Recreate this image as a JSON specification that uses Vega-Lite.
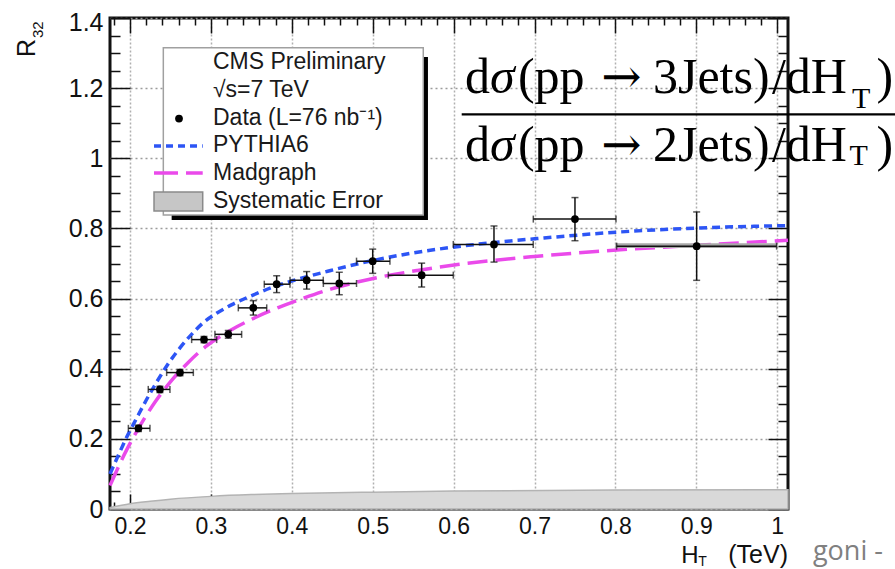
{
  "$schema": "https://vega.github.io/schema/vega-lite/v6.json",
  "width": 678,
  "height": 491,
  "autosize": {"type": "none"},
  "padding": {"left": 110, "top": 18, "right": 107, "bottom": 60},
  "background": "white",
  "config": {
    "view": {"stroke": "#111", "strokeWidth": 3},
    "text": {"font": "Liberation Sans"}
  },
  "datasets": {
    "bins": [
      {"ht": 0.2105, "lo": 0.198, "hi": 0.2247, "r": 0.230, "rlo": 0.221, "rhi": 0.239},
      {"ht": 0.237, "lo": 0.2226, "hi": 0.2494, "r": 0.341, "rlo": 0.332, "rhi": 0.350},
      {"ht": 0.2618, "lo": 0.2453, "hi": 0.2783, "r": 0.389, "rlo": 0.380, "rhi": 0.398},
      {"ht": 0.2915, "lo": 0.2762, "hi": 0.3071, "r": 0.483, "rlo": 0.474, "rhi": 0.492},
      {"ht": 0.3215, "lo": 0.305, "hi": 0.338, "r": 0.498, "rlo": 0.487, "rhi": 0.509},
      {"ht": 0.3524, "lo": 0.3339, "hi": 0.369, "r": 0.5735, "rlo": 0.553, "rhi": 0.594},
      {"ht": 0.3813, "lo": 0.366, "hi": 0.3978, "r": 0.641, "rlo": 0.617, "rhi": 0.665},
      {"ht": 0.4184, "lo": 0.3978, "hi": 0.4389, "r": 0.6525, "rlo": 0.627, "rhi": 0.677},
      {"ht": 0.4587, "lo": 0.439, "hi": 0.48, "r": 0.643, "rlo": 0.611, "rhi": 0.675},
      {"ht": 0.5, "lo": 0.48, "hi": 0.5213, "r": 0.7067, "rlo": 0.672, "rhi": 0.741},
      {"ht": 0.5605, "lo": 0.5193, "hi": 0.5996, "r": 0.6668, "rlo": 0.633, "rhi": 0.701},
      {"ht": 0.6499, "lo": 0.5996, "hi": 0.6984, "r": 0.7544, "rlo": 0.704, "rhi": 0.807},
      {"ht": 0.75, "lo": 0.6985, "hi": 0.8007, "r": 0.8266, "rlo": 0.765, "rhi": 0.888},
      {"ht": 0.9004, "lo": 0.8015, "hi": 0.9992, "r": 0.7495, "rlo": 0.652, "rhi": 0.847}
    ],
    "pythia": [
      {"ht": 0.1753, "r": 0.100},
      {"ht": 0.185, "r": 0.150},
      {"ht": 0.196, "r": 0.205},
      {"ht": 0.208, "r": 0.258},
      {"ht": 0.22, "r": 0.310},
      {"ht": 0.233, "r": 0.362},
      {"ht": 0.246, "r": 0.410},
      {"ht": 0.262, "r": 0.460},
      {"ht": 0.277, "r": 0.500},
      {"ht": 0.291, "r": 0.532},
      {"ht": 0.307, "r": 0.558},
      {"ht": 0.328, "r": 0.585},
      {"ht": 0.352, "r": 0.610},
      {"ht": 0.376, "r": 0.632},
      {"ht": 0.40, "r": 0.650},
      {"ht": 0.448, "r": 0.680},
      {"ht": 0.497, "r": 0.707},
      {"ht": 0.547, "r": 0.729},
      {"ht": 0.597, "r": 0.746},
      {"ht": 0.646, "r": 0.759},
      {"ht": 0.703, "r": 0.771},
      {"ht": 0.806, "r": 0.790},
      {"ht": 0.9, "r": 0.801},
      {"ht": 1.0133, "r": 0.808}
    ],
    "madgraph": [
      {"ht": 0.1753, "r": 0.067},
      {"ht": 0.194, "r": 0.160},
      {"ht": 0.21, "r": 0.228},
      {"ht": 0.231, "r": 0.305},
      {"ht": 0.252, "r": 0.368},
      {"ht": 0.272, "r": 0.418},
      {"ht": 0.293, "r": 0.462},
      {"ht": 0.326, "r": 0.512},
      {"ht": 0.355, "r": 0.546},
      {"ht": 0.384, "r": 0.575},
      {"ht": 0.413, "r": 0.600},
      {"ht": 0.448, "r": 0.627},
      {"ht": 0.502, "r": 0.658},
      {"ht": 0.555, "r": 0.680},
      {"ht": 0.605, "r": 0.697},
      {"ht": 0.70, "r": 0.720},
      {"ht": 0.806, "r": 0.739},
      {"ht": 0.9, "r": 0.752},
      {"ht": 1.0133, "r": 0.766}
    ],
    "syst": [
      {"ht": 0.1753, "sys": 0.004},
      {"ht": 0.2, "sys": 0.015},
      {"ht": 0.225, "sys": 0.022},
      {"ht": 0.25, "sys": 0.028},
      {"ht": 0.3, "sys": 0.036},
      {"ht": 0.35, "sys": 0.041},
      {"ht": 0.4, "sys": 0.044},
      {"ht": 0.5, "sys": 0.048},
      {"ht": 0.6, "sys": 0.051},
      {"ht": 0.8, "sys": 0.054},
      {"ht": 1.0133, "sys": 0.055}
    ]
  },
  "resolve": {"axis": {"x": "independent", "y": "independent"}},
  "layer": [
    {
      "data": {"name": "syst"},
      "mark": {"type": "area", "color": "#d9d9d9", "stroke": "#b3b3b3", "strokeWidth": 1.5, "interpolate": "monotone"},
      "encoding": {
        "x": {
          "field": "ht", "type": "quantitative",
          "scale": {"domain": [0.1753, 1.0133], "nice": false, "zero": false},
          "axis": {
            "orient": "bottom", "title": null, "domain": false, "ticks": false,
            "values": [0.2, 0.3, 0.4, 0.5, 0.6, 0.7, 0.8, 0.9, 1.0],
            "labelExpr": "format(datum.value, '.2~f')",
            "labelFont": "Liberation Sans", "labelFontSize": 23, "labelColor": "#111",
            "labelPadding": 6, "labelOverlap": false, "labelFlush": false, "labelBound": false,
            "grid": true, "gridColor": "#b0b0b0", "gridDash": [2, 2], "gridWidth": 1.5
          }
        },
        "y": {
          "field": "sys", "type": "quantitative",
          "scale": {"domain": [0, 1.4], "nice": false},
          "axis": {
            "orient": "left", "title": null, "domain": false, "ticks": false,
            "values": [0, 0.2, 0.4, 0.6, 0.8, 1.0, 1.2, 1.4],
            "labelExpr": "format(datum.value, '.2~f')",
            "labelFont": "Liberation Sans", "labelFontSize": 25, "labelColor": "#111",
            "labelPadding": 7, "labelOverlap": false, "labelFlush": false, "labelBound": false,
            "labelOffset": {"condition": {"test": "datum.value > 1.3", "value": 4}, "value": 0},
            "grid": true, "gridColor": "#9c9c9c", "gridDash": [2, 3], "gridWidth": 1.3
          }
        },
        "y2": {"datum": 0}
      }
    },
    {
      "data": {"name": "pythia"},
      "mark": {"type": "line", "color": "#2d55f5", "strokeWidth": 3.5, "strokeDash": [8, 5], "interpolate": "monotone"},
      "encoding": {
        "x": {
          "field": "ht", "type": "quantitative",
          "axis": {
            "orient": "bottom", "title": null, "domain": false, "labels": false, "grid": false,
            "values": [0.18, 0.2, 0.22, 0.24, 0.26, 0.28, 0.3, 0.32, 0.34, 0.36, 0.38, 0.4, 0.42, 0.44, 0.46, 0.48, 0.5, 0.52, 0.54, 0.56, 0.58, 0.6, 0.62, 0.64, 0.66, 0.68, 0.7, 0.72, 0.74, 0.76, 0.78, 0.8, 0.82, 0.84, 0.86, 0.88, 0.9, 0.92, 0.94, 0.96, 0.98, 1.0],
            "tickColor": "#111", "tickWidth": 1.5,
            "tickSize": {"condition": {"test": "abs(datum.value * 10 - round(datum.value * 10)) < 0.001", "value": -15}, "value": -7}
          }
        },
        "y": {
          "field": "r", "type": "quantitative",
          "axis": {
            "orient": "left", "title": null, "domain": false, "labels": false, "grid": false,
            "values": [0, 0.05, 0.1, 0.15, 0.2, 0.25, 0.3, 0.35, 0.4, 0.45, 0.5, 0.55, 0.6, 0.65, 0.7, 0.75, 0.8, 0.85, 0.9, 0.95, 1.0, 1.05, 1.1, 1.15, 1.2, 1.25, 1.3, 1.35, 1.4],
            "tickColor": "#111", "tickWidth": 1.5,
            "tickSize": {"condition": {"test": "abs(datum.value * 5 - round(datum.value * 5)) < 0.001", "value": -20}, "value": -10}
          }
        }
      }
    },
    {
      "data": {"name": "madgraph"},
      "mark": {"type": "line", "color": "#ea4aea", "strokeWidth": 3.5, "strokeDash": [20, 8], "interpolate": "monotone"},
      "encoding": {
        "x": {
          "field": "ht", "type": "quantitative",
          "axis": {
            "orient": "top", "title": null, "domain": false, "labels": false, "grid": false,
            "values": [0.18, 0.2, 0.22, 0.24, 0.26, 0.28, 0.3, 0.32, 0.34, 0.36, 0.38, 0.4, 0.42, 0.44, 0.46, 0.48, 0.5, 0.52, 0.54, 0.56, 0.58, 0.6, 0.62, 0.64, 0.66, 0.68, 0.7, 0.72, 0.74, 0.76, 0.78, 0.8, 0.82, 0.84, 0.86, 0.88, 0.9, 0.92, 0.94, 0.96, 0.98, 1.0],
            "tickColor": "#111", "tickWidth": 1.5,
            "tickSize": {"condition": {"test": "abs(datum.value * 10 - round(datum.value * 10)) < 0.001", "value": -15}, "value": -7}
          }
        },
        "y": {
          "field": "r", "type": "quantitative",
          "axis": {
            "orient": "right", "title": null, "domain": false, "labels": false, "grid": false,
            "values": [0, 0.05, 0.1, 0.15, 0.2, 0.25, 0.3, 0.35, 0.4, 0.45, 0.5, 0.55, 0.6, 0.65, 0.7, 0.75, 0.8, 0.85, 0.9, 0.95, 1.0, 1.05, 1.1, 1.15, 1.2, 1.25, 1.3, 1.35, 1.4],
            "tickColor": "#111", "tickWidth": 1.5,
            "tickSize": {"condition": {"test": "abs(datum.value * 5 - round(datum.value * 5)) < 0.001", "value": -20}, "value": -10}
          }
        }
      }
    },
    {
      "data": {"values": [{}]},
      "mark": {"type": "rect", "color": "#a8a8a8"},
      "encoding": {
        "x": {"datum": 0.8, "axis": null},
        "x2": {"datum": 1.0},
        "y": {"datum": 0.744, "axis": null},
        "y2": {"datum": 0.758}
      }
    },
    {
      "data": {"name": "bins"},
      "mark": {"type": "errorbar", "ticks": {"size": 7, "color": "#111", "thickness": 1.5}, "rule": {"color": "#111", "strokeWidth": 1.5}},
      "encoding": {
        "x": {"field": "lo", "type": "quantitative", "axis": null},
        "x2": {"field": "hi"},
        "y": {"field": "r", "type": "quantitative", "axis": null}
      }
    },
    {
      "data": {"name": "bins"},
      "mark": {"type": "errorbar", "ticks": {"size": 7, "color": "#111", "thickness": 1.5}, "rule": {"color": "#111", "strokeWidth": 1.5}},
      "encoding": {
        "x": {"field": "ht", "type": "quantitative", "axis": null},
        "y": {"field": "rlo", "type": "quantitative", "axis": null},
        "y2": {"field": "rhi"}
      }
    },
    {
      "data": {"name": "bins"},
      "mark": {"type": "circle", "size": 60, "color": "#000", "opacity": 1},
      "encoding": {
        "x": {"field": "ht", "type": "quantitative", "axis": null},
        "y": {"field": "r", "type": "quantitative", "axis": null}
      }
    },
    {
      "data": {"values": [{}]},
      "mark": {"type": "rect", "color": "#000"},
      "encoding": {
        "x": {"datum": 0.2515, "axis": null},
        "x2": {"datum": 0.5683},
        "y": {"datum": 1.289, "axis": null},
        "y2": {"datum": 0.824}
      }
    },
    {
      "data": {"values": [{}]},
      "mark": {"type": "rect", "fill": "white", "stroke": "#a0a0a0", "strokeWidth": 1.5},
      "encoding": {
        "x": {"datum": 0.2412, "axis": null},
        "x2": {"datum": 0.5625},
        "y": {"datum": 1.315, "axis": null},
        "y2": {"datum": 0.838}
      }
    },
    {
      "data": {"values": [{}]},
      "mark": {
        "type": "text",
        "text": ["CMS Preliminary", "√s=7 TeV", "Data (L=76 nb⁻¹)", "PYTHIA6", "Madgraph", "Systematic Error"],
        "align": "left", "baseline": "middle", "lineHeight": 27.8,
        "fontSize": 23, "color": "#1a1a1a"
      },
      "encoding": {
        "x": {"datum": 0.3026, "axis": null},
        "y": {"datum": 1.2745, "axis": null}
      }
    },
    {
      "data": {"values": [{}]},
      "mark": {"type": "circle", "size": 60, "color": "#000", "opacity": 1},
      "encoding": {
        "x": {"datum": 0.2606, "axis": null},
        "y": {"datum": 1.1131, "axis": null}
      }
    },
    {
      "data": {"values": [{}]},
      "mark": {"type": "rule", "color": "#2d55f5", "strokeWidth": 3.5, "strokeDash": [7, 5]},
      "encoding": {
        "x": {"datum": 0.2297, "axis": null},
        "x2": {"datum": 0.2899},
        "y": {"datum": 1.0349, "axis": null}
      }
    },
    {
      "data": {"values": [{}]},
      "mark": {"type": "rule", "color": "#ea4aea", "strokeWidth": 3.5, "strokeDash": [24, 8]},
      "encoding": {
        "x": {"datum": 0.2297, "axis": null},
        "x2": {"datum": 0.2899},
        "y": {"datum": 0.958, "axis": null}
      }
    },
    {
      "data": {"values": [{}]},
      "mark": {"type": "rect", "fill": "#c6c6c6", "stroke": "#8a8a8a", "strokeWidth": 1.5},
      "encoding": {
        "x": {"datum": 0.2297, "axis": null},
        "x2": {"datum": 0.2899},
        "y": {"datum": 0.904, "axis": null},
        "y2": {"datum": 0.85}
      }
    },
    {
      "data": {"values": [{}]},
      "mark": {"type": "rule", "color": "#000", "strokeWidth": 2.2},
      "encoding": {
        "x": {"datum": 0.61, "axis": null},
        "x2": {"datum": 1.15},
        "y": {"datum": 1.1252, "axis": null}
      }
    },
    {
      "data": {"values": [{}]},
      "mark": {"type": "text", "text": ["d", "d"], "font": "Liberation Serif", "fontSize": 50, "align": "left", "baseline": "alphabetic", "lineHeight": 68, "color": "#000"},
      "encoding": {"x": {"datum": 0.614, "axis": null}, "y": {"datum": 1.186, "axis": null}}
    },
    {
      "data": {"values": [{}]},
      "mark": {"type": "text", "text": ["σ", "σ"], "font": "Liberation Serif", "fontStyle": "italic", "fontSize": 50, "align": "left", "baseline": "alphabetic", "lineHeight": 68, "color": "#000"},
      "encoding": {"x": {"datum": 0.6449, "axis": null}, "y": {"datum": 1.186, "axis": null}}
    },
    {
      "data": {"values": [{}]},
      "mark": {"type": "text", "text": ["(pp", "(pp"], "font": "Liberation Serif", "fontSize": 50, "align": "left", "baseline": "alphabetic", "lineHeight": 68, "color": "#000"},
      "encoding": {"x": {"datum": 0.6795, "axis": null}, "y": {"datum": 1.186, "axis": null}}
    },
    {
      "data": {"values": [{}]},
      "mark": {"type": "text", "text": ["→", "→"], "font": "DejaVu Serif", "fontSize": 48, "align": "left", "baseline": "alphabetic", "lineHeight": 68, "color": "#000"},
      "encoding": {"x": {"datum": 0.7825, "axis": null}, "y": {"datum": 1.186, "axis": null}}
    },
    {
      "data": {"values": [{}]},
      "mark": {"type": "text", "text": ["3Jets)", "2Jets)"], "font": "Liberation Serif", "fontSize": 50, "align": "left", "baseline": "alphabetic", "lineHeight": 68, "color": "#000"},
      "encoding": {"x": {"datum": 0.8464, "axis": null}, "y": {"datum": 1.186, "axis": null}}
    },
    {
      "data": {"values": [{}]},
      "mark": {"type": "text", "text": ["/dH", "/dH"], "font": "Liberation Serif", "fontSize": 50, "align": "left", "baseline": "alphabetic", "lineHeight": 68, "color": "#000"},
      "encoding": {"x": {"datum": 0.9935, "axis": null}, "y": {"datum": 1.186, "axis": null}}
    },
    {
      "data": {"values": [{}]},
      "mark": {"type": "text", "text": "T", "font": "Liberation Serif", "fontSize": 30, "align": "left", "baseline": "alphabetic", "color": "#000"},
      "encoding": {"x": {"datum": 1.0923, "axis": null}, "y": {"datum": 1.1424, "axis": null}}
    },
    {
      "data": {"values": [{}]},
      "mark": {"type": "text", "text": "T", "font": "Liberation Serif", "fontSize": 30, "align": "left", "baseline": "alphabetic", "color": "#000"},
      "encoding": {"x": {"datum": 1.0893, "axis": null}, "y": {"datum": 0.9808, "axis": null}}
    },
    {
      "data": {"values": [{}]},
      "mark": {"type": "text", "text": [")", ")"], "font": "Liberation Serif", "fontSize": 50, "align": "left", "baseline": "alphabetic", "lineHeight": 68, "color": "#000"},
      "encoding": {"x": {"datum": 1.1226, "axis": null}, "y": {"datum": 1.186, "axis": null}}
    },
    {
      "data": {"values": [{}]},
      "mark": {"type": "text", "text": "R", "angle": 270, "fontSize": 25, "align": "left", "baseline": "alphabetic", "color": "#111"},
      "encoding": {"x": {"datum": 0.0826, "axis": null}, "y": {"datum": 1.2887, "axis": null}}
    },
    {
      "data": {"values": [{}]},
      "mark": {"type": "text", "text": "32", "angle": 270, "fontSize": 15, "align": "left", "baseline": "alphabetic", "color": "#111"},
      "encoding": {"x": {"datum": 0.0928, "axis": null}, "y": {"datum": 1.3429, "axis": null}}
    },
    {
      "data": {"values": [{}]},
      "mark": {"type": "text", "text": "H", "fontSize": 24, "align": "left", "baseline": "alphabetic", "color": "#111"},
      "encoding": {"x": {"datum": 0.8815, "axis": null}, "y": {"datum": -0.153, "axis": null}}
    },
    {
      "data": {"values": [{}]},
      "mark": {"type": "text", "text": "T", "fontSize": 14, "align": "left", "baseline": "alphabetic", "color": "#111"},
      "encoding": {"x": {"datum": 0.9025, "axis": null}, "y": {"datum": -0.163, "axis": null}}
    },
    {
      "data": {"values": [{}]},
      "mark": {"type": "text", "text": "(TeV)", "fontSize": 25, "align": "right", "baseline": "alphabetic", "color": "#111"},
      "encoding": {"x": {"datum": 1.0133, "axis": null}, "y": {"datum": -0.153, "axis": null}}
    },
    {
      "data": {"values": [{}]},
      "mark": {"type": "text", "text": "goni -", "font": "Open Sans", "fontSize": 27, "align": "left", "baseline": "alphabetic", "color": "#808080"},
      "encoding": {"x": {"datum": 1.0441, "axis": null}, "y": {"datum": -0.1464, "axis": null}}
    }
  ]
}
